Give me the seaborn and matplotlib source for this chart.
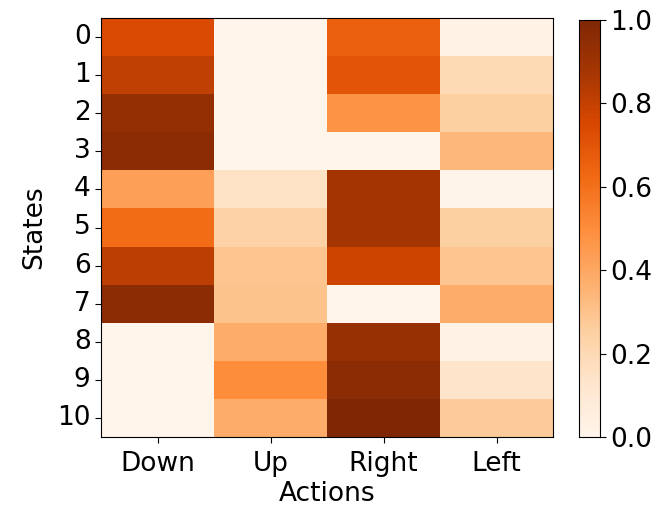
import numpy as np
import pandas as pd
import matplotlib
matplotlib.use('Agg')
import matplotlib.pyplot as plt
import seaborn as sns

actions = ['Down', 'Up', 'Right', 'Left']
states = [str(i) for i in range(11)]

down = [0.74, 0.81, 0.93, 0.96, 0.43, 0.62, 0.82, 0.96, 0.0, 0.0, 0.0]
up = [0.0, 0.0, 0.0, 0.0, 0.15, 0.24, 0.29, 0.30, 0.38, 0.50, 0.38]
right = [0.66, 0.70, 0.48, 0.0, 0.88, 0.88, 0.78, 0.0, 0.92, 0.96, 1.0]
left = [0.02, 0.20, 0.25, 0.34, 0.01, 0.25, 0.29, 0.38, 0.02, 0.14, 0.27]

df = pd.DataFrame({'Down': down, 'Up': up, 'Right': right, 'Left': left}, index=states)

fs = 19
plt.rcParams.update({'font.size': fs, 'font.family': 'DejaVu Sans'})
fig = plt.figure(figsize=(6.58, 5.09), dpi=100)
ax = fig.add_axes([101 / 658, 72 / 509, 452 / 658, 419 / 509])
cax = fig.add_axes([579 / 658, 72 / 509, 21 / 658, 417 / 509])

sns.heatmap(df, ax=ax, cbar_ax=cax, cmap='Oranges', vmin=0, vmax=1, linewidths=0)
ax.set_xlabel('Actions', fontsize=fs, labelpad=3)
ax.set_ylabel('States', fontsize=fs, labelpad=7)
ax.tick_params(axis='both', labelsize=fs, length=4)
ax.tick_params(axis='x', pad=6)
ax.set_yticklabels(states, rotation=0)
for s in ax.spines.values():
    s.set_visible(True)
    s.set_color('black')
cax.tick_params(labelsize=fs, length=4)
cax.set_yticks([0, 0.2, 0.4, 0.6, 0.8, 1.0])
for s in cax.spines.values():
    s.set_visible(True)
    s.set_color('black')

fig.savefig('out.png', dpi=100)
